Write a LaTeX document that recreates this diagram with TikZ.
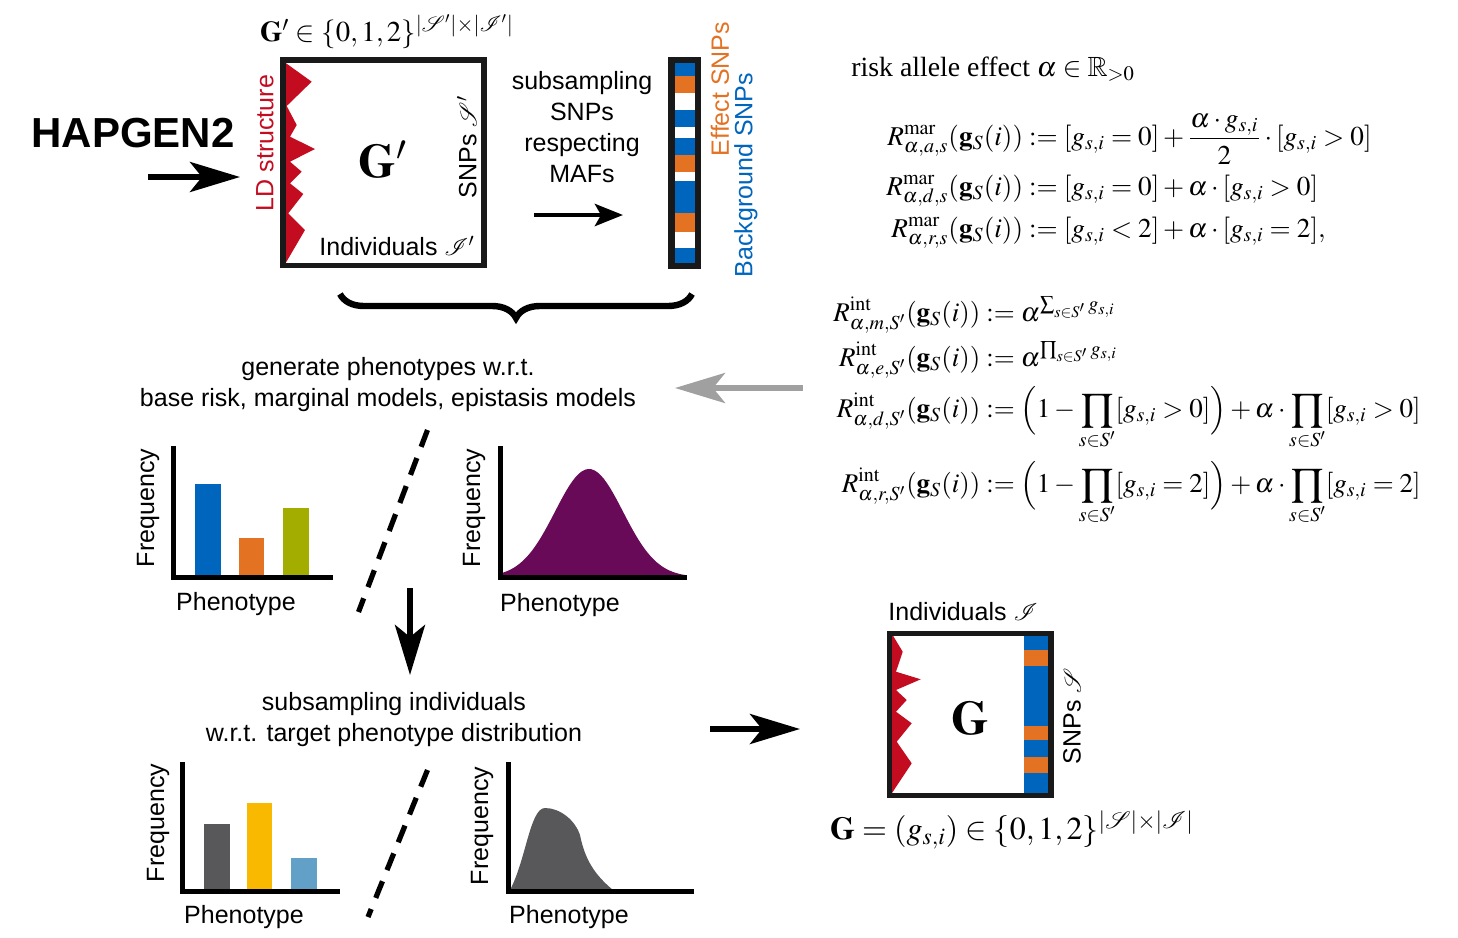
\documentclass[tikz,border=0pt]{standalone}
\usepackage{amsmath,amssymb}
\usepackage{mathrsfs}
\usepackage{mathptmx}
\usepackage[no-math]{fontspec}
\setmainfont{Liberation Serif}
\setsansfont{Liberation Sans}
\usepackage{xcolor}
\usepackage{tikz}
\usetikzlibrary{arrows.meta}
\usetikzlibrary{decorations.pathreplacing}
\usetikzlibrary{positioning}
\definecolor{ldred}{RGB}{196,12,32}
\definecolor{snpblue}{RGB}{0,101,189}
\definecolor{snporange}{RGB}{227,114,34}
\definecolor{barolive}{RGB}{163,173,0}
\definecolor{bellpurple}{RGB}{104,10,88}
\definecolor{darkgrey}{RGB}{88,88,90}
\definecolor{baryellow}{RGB}{249,185,0}
\definecolor{lightblue}{RGB}{98,160,200}
\definecolor{arrowgrey}{RGB}{160,160,160}
\tikzstyle{matbox} = [draw=black!90, line width=2.7pt]
\tikzstyle{sanslabel} = [font=\sffamily\fontsize{12.5}{15.5}\selectfont, inner sep=0pt, align=center]
\tikzstyle{mathlabel} = [font=\fontsize{13.6}{16.5}\selectfont, inner sep=0pt]
\tikzstyle{bigarrow} = [line width=2.8pt, -{Stealth[length=25pt,width=15pt,inset=6pt]}]
\tikzstyle{smallarrow} = [line width=2.4pt, -{Stealth[length=14pt,width=11pt,inset=3pt]}]
\tikzstyle{axisline} = [line width=2.5pt]
\tikzstyle{sepline} = [line width=2.6pt, dash pattern=on 9pt off 6pt]

\begin{document}
\begin{tikzpicture}[x=0.5pt, y=-0.5pt]
    \useasboundingbox (0,0) rectangle (1458,938);

    % HAPGEN input
    \node[font=\sffamily\bfseries\fontsize{21}{24}\selectfont, inner sep=0pt] (hapgen) at (133,133) {HAPGEN2};
    \coordinate (hapS) at (148,177);
    \coordinate (hapE) at (240,177);
    \draw[bigarrow] (hapS) -- (hapE);

    % matrix G'
    \fill[ldred] (285.7,63) -- (311.7,81.7) -- (286.7,106) -- (296.7,125) -- (290,136.7)
        -- (315,149) -- (290,161.7) -- (301.7,171.7) -- (290,183.3) -- (303.3,194)
        -- (288.3,213.3) -- (305,230) -- (285.7,263) -- cycle;
    \draw[matbox] (283,60) rectangle (484,265.7);
    \node (gprime) at (383,160) {\fontsize{24}{28}\selectfont$\mathbf{G}'$};
    \node[sanslabel, rotate=90] (snpsp) at (467,147) {SNPs $\mathscr{S}'$};
    \node[sanslabel] (indivp) at (397,246) {Individuals $\mathscr{I}'$};
    \node[sanslabel, rotate=90, text=ldred] (ld) at (265,143) {LD structure};
    \node[mathlabel, font=\fontsize{14.4}{17}\selectfont] (gpdef) at (387,32)
        {$\mathbf{G}'\in\{0,1,2\}^{|\mathscr{S}'|\times|\mathscr{I}'|}$};

    % subsampling SNPs
    \node[sanslabel] (subsnp) at (582,127) {subsampling\\SNPs\\respecting\\MAFs};
    \coordinate (subS) at (534,215);
    \coordinate (subE) at (623,215);
    \draw[smallarrow] (subS) -- (subE);

    % SNP bar
    \foreach \ya/\yb/\col in {60/76/snpblue, 76/92.7/snporange, 110/126.7/snpblue,
        138.3/155/snpblue, 155/171.7/snporange, 181/213.3/snpblue,
        213.3/231.7/snporange, 248.3/266/snpblue}
        \fill[\col] (671.5,\ya) rectangle (698,\yb);
    \draw[matbox, line width=3.2pt] (671.5,60) rectangle (698,265.7);
    \node[sanslabel, rotate=90, text=snporange] (effect) at (720,89) {Effect SNPs};
    \node[sanslabel, rotate=90, text=snpblue] (backgr) at (746,175) {Background SNPs};

    % brace
    \coordinate (braceL) at (340,294);
    \coordinate (braceR) at (692,294);
    \draw[decorate, decoration={brace, mirror, amplitude=12pt}, line width=3.2pt] (braceL) -- (braceR);

    % marginal models
    \node[mathlabel, font=\fontsize{13.9}{16.5}\selectfont, anchor=west] (risk) at (851,69)
        {risk allele effect $\alpha\in\mathbb{R}_{>0}$};
    \node[mathlabel, anchor=west] (mar) at (886,181) {$\begin{aligned}
        R^{\mathrm{mar}}_{\alpha,a,s}(\mathbf{g}_S(i)) &:= [g_{s,i}=0]+\frac{\alpha\cdot g_{s,i}}{2}\cdot[g_{s,i}>0]\\
        R^{\mathrm{mar}}_{\alpha,d,s}(\mathbf{g}_S(i)) &:= [g_{s,i}=0]+\alpha\cdot[g_{s,i}>0]\\
        R^{\mathrm{mar}}_{\alpha,r,s}(\mathbf{g}_S(i)) &:= [g_{s,i}<2]+\alpha\cdot[g_{s,i}=2],
    \end{aligned}$};

    % epistasis models
    \node[mathlabel, font=\fontsize{13.5}{16.5}\selectfont, anchor=west] (int) at (833,411) {$\begin{aligned}
        R^{\mathrm{int}}_{\alpha,m,S'}(\mathbf{g}_S(i)) &:= \alpha^{\sum_{s\in S'}g_{s,i}}\\
        R^{\mathrm{int}}_{\alpha,e,S'}(\mathbf{g}_S(i)) &:= \alpha^{\prod_{s\in S'}g_{s,i}}\\
        R^{\mathrm{int}}_{\alpha,d,S'}(\mathbf{g}_S(i)) &:= \Bigl(1-\prod_{s\in S'}[g_{s,i}>0]\Bigr)+\alpha\cdot\prod_{s\in S'}[g_{s,i}>0]\\[2pt]
        R^{\mathrm{int}}_{\alpha,r,S'}(\mathbf{g}_S(i)) &:= \Bigl(1-\prod_{s\in S'}[g_{s,i}=2]\Bigr)+\alpha\cdot\prod_{s\in S'}[g_{s,i}=2]
    \end{aligned}$};
    \coordinate (greyS) at (803,388);
    \coordinate (greyE) at (675,388);
    \draw[bigarrow, draw=arrowgrey, fill=arrowgrey] (greyS) -- (greyE);

    \node[sanslabel] (gener) at (388,385) {generate phenotypes w.r.t.\\base risk, marginal models, epistasis models};

    % phenotype charts before subsampling
    \fill[snpblue] (195,484) rectangle (221,576);
    \fill[snporange] (238.5,538) rectangle (264,576);
    \fill[barolive] (282.7,508) rectangle (308.5,576);
    \draw[axisline] (173,446) -- (173,577) -- (333,577);
    \node[sanslabel, rotate=90] (freqA) at (148,508) {Frequency};
    \node[sanslabel] (phenA) at (236,604) {Phenotype};

    \fill[bellpurple] (501,577) -- plot[domain=501:685, samples=60] (\x,{577-108*exp(-((\x-589)/48)^2)}) -- (685,577) -- cycle;
    \draw[axisline] (500,446) -- (500,577) -- (687,577);
    \node[sanslabel, rotate=90] (freqB) at (474,508) {Frequency};
    \node[sanslabel] (phenB) at (560,605) {Phenotype};

    \coordinate (sepAtop) at (427.5,430);
    \coordinate (sepAbot) at (358.5,612);
    \draw[sepline] (sepAtop) -- (sepAbot);

    \coordinate (downS) at (410,588);
    \coordinate (downE) at (410,675);
    \draw[bigarrow] (downS) -- (downE);

    \node[sanslabel] (subind) at (394,720) {subsampling individuals\\w.r.t. target phenotype distribution};

    % phenotype charts after subsampling
    \fill[darkgrey] (204,824) rectangle (230,890);
    \fill[baryellow] (247,803) rectangle (272.4,890);
    \fill[lightblue] (291,858) rectangle (317,890);
    \draw[axisline] (182,762) -- (182,891) -- (340,891);
    \node[sanslabel, rotate=90] (freqC) at (158,823) {Frequency};
    \node[sanslabel] (phenC) at (244,917) {Phenotype};

    \fill[darkgrey] (510,890) .. controls (526,860) and (530,808) .. (545,808)
        .. controls (560,808) and (575,820) .. (580,835)
        .. controls (585,860) and (595,875) .. (613,890) -- cycle;
    \draw[axisline] (508,762) -- (508,891) -- (694,891);
    \node[sanslabel, rotate=90] (freqD) at (482,826) {Frequency};
    \node[sanslabel] (phenD) at (569,917) {Phenotype};

    \coordinate (sepBtop) at (427.5,770);
    \coordinate (sepBbot) at (368,917);
    \draw[sepline] (sepBtop) -- (sepBbot);

    \coordinate (rightS) at (710,729);
    \coordinate (rightE) at (800,729);
    \draw[bigarrow] (rightS) -- (rightE);

    % matrix G
    \fill[snpblue] (1024,633.5) rectangle (1051,795.5);
    \foreach \ya/\yb in {650/666, 726/740, 756.7/772.7}
        \fill[snporange] (1024,\ya) rectangle (1051,\yb);
    \fill[ldred] (892,634) -- (902.7,651.7) -- (896,671.7) -- (920.7,679.3) -- (896,690)
        -- (906.7,700) -- (896,711.7) -- (911.7,723.3) -- (896.7,741.7) -- (911.7,763.3)
        -- (892,793) -- cycle;
    \draw[matbox, line width=2.9pt] (889.5,633.5) rectangle (1051,795.5);
    \node (gmat) at (970,718) {\fontsize{24}{28}\selectfont$\mathbf{G}$};
    \node[sanslabel] (indiv) at (963,612) {Individuals $\mathscr{I}$};
    \node[sanslabel, rotate=90] (snps) at (1072,716) {SNPs $\mathscr{S}$};
    \node[mathlabel, font=\fontsize{16}{19}\selectfont] (gdef) at (1012,830)
        {$\mathbf{G}=(g_{s,i})\in\{0,1,2\}^{|\mathscr{S}|\times|\mathscr{I}|}$};
\end{tikzpicture}
\end{document}
